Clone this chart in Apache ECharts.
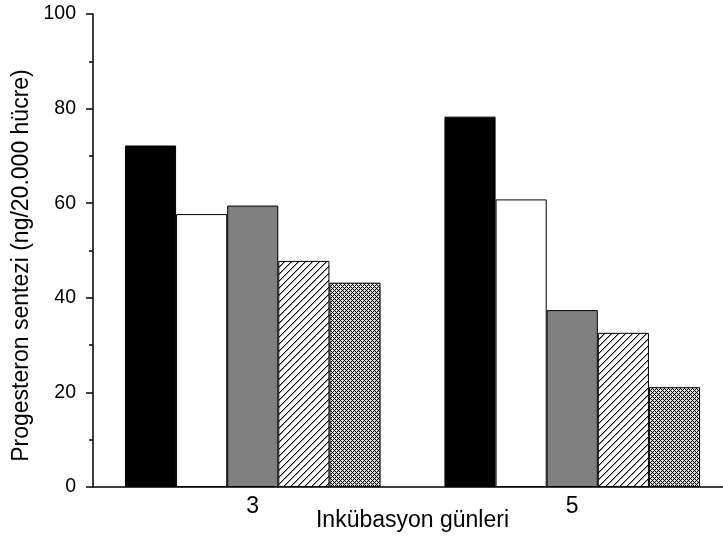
<!DOCTYPE html>
<html>
<head>
<meta charset="utf-8">
<script src="https://cdn.jsdelivr.net/npm/echarts@6/dist/echarts.min.js"></script>
<style>html,body{margin:0;padding:0;background:#fff}#c{width:723px;height:540px}</style>
</head>
<body>
<div id="c"></div>
<script>
var categories = ['3', '5'];
var seriesA = [72.2, 78.3];
var seriesB = [57.7, 60.8];
var seriesC = [59.5, 37.4];
var seriesD = [47.8, 32.6];
var seriesE = [43.2, 21.1];
var yTicks = [0, 20, 40, 60, 80, 100];

function pixelTile(n, fn) {
  var c = document.createElement('canvas');
  c.width = n; c.height = n;
  var g = c.getContext('2d');
  g.fillStyle = '#fff'; g.fillRect(0, 0, n, n);
  for (var x = 0; x < n; x++) {
    for (var y = 0; y < n; y++) {
      var col = fn(x, y);
      if (col) { g.fillStyle = col; g.fillRect(x, y, 1, 1); }
    }
  }
  return c;
}
function hatchPattern() {
  return pixelTile(7, function (x, y) {
    var k = (x + y) % 7;
    if (k === 6) return '#000';
    if (k === 0) return '#999';
    return null;
  });
}
function crossPattern() {
  return pixelTile(4, function (x, y) {
    var a = (x + y) % 4, b = ((x - y) + 8) % 4;
    if (a === 0 || b === 0) return '#000';
    if (a === 2 && b === 2) return null;
    return '#ccc';
  });
}

var chart = echarts.init(document.getElementById('c'));
var font = 'Liberation Sans, Arial, sans-serif';
function bar(name, data, color) {
  return {
    name: name, type: 'bar', data: data,
    barGap: '0%', barCategoryGap: '20%',
    itemStyle: { color: color, borderColor: '#000', borderWidth: 1 },
    emphasis: { disabled: true },
    animation: false
  };
}
chart.setOption({
  animation: false,
  grid: { left: 93, top: 14, width: 639, height: 473, containLabel: false, outerBoundsMode: 'none' },
  xAxis: {
    type: 'category', data: categories,
    name: 'Inkübasyon günleri', nameLocation: 'middle', nameGap: 22, nameMoveOverlap: false,
    nameTextStyle: { fontFamily: font, fontSize: 23, color: '#000' },
    axisLine: { lineStyle: { color: '#000', width: 1.5 } },
    axisTick: { alignWithLabel: true, length: 7, lineStyle: { color: '#000', width: 1.5 } },
    axisLabel: { fontFamily: font, fontSize: 23, color: '#000', margin: 8 }
  },
  yAxis: {
    type: 'value', min: 0, max: 100, interval: 20,
    name: 'Progesteron sentezi (ng/20.000 hücre)', nameLocation: 'middle', nameGap: 60, nameMoveOverlap: false,
    nameTextStyle: { fontFamily: font, fontSize: 23, color: '#000', padding: [0, 30, 0, 0] },
    axisLine: { show: true, lineStyle: { color: '#000', width: 1.5 } },
    axisTick: { show: true, length: 7, lineStyle: { color: '#000', width: 1.5 } },
    minorTick: { show: true, splitNumber: 2, length: 4, lineStyle: { color: '#000', width: 1.5 } },
    splitLine: { show: false },
    axisLabel: { fontFamily: font, fontSize: 19.5, color: '#000', margin: 17,
      formatter: function (v) { return yTicks.indexOf(v) >= 0 ? String(v) : ''; } }
  },
  series: [
    bar('A', seriesA, '#000'),
    bar('B', seriesB, '#fff'),
    bar('C', seriesC, '#808080'),
    bar('D', seriesD, { image: hatchPattern(), repeat: 'repeat' }),
    bar('E', seriesE, { image: crossPattern(), repeat: 'repeat' })
  ]
});
</script>
</body>
</html>
